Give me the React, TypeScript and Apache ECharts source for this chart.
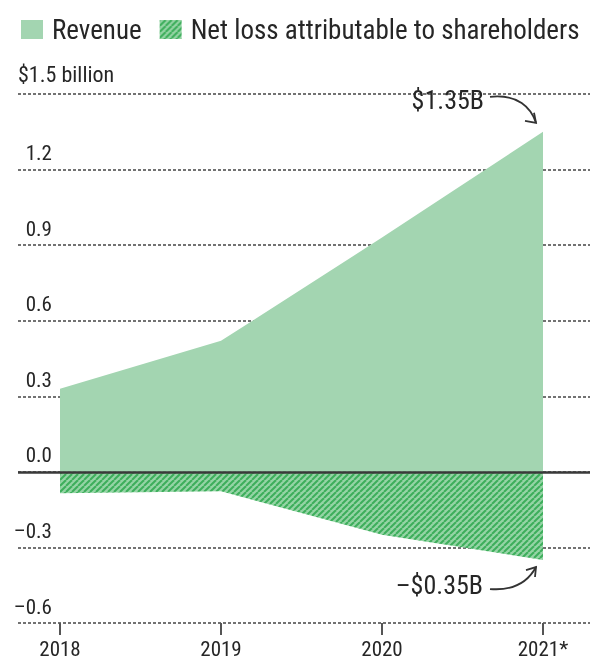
import React, { useEffect, useRef } from 'react';
import * as echarts from 'echarts';

const years = [2018, 2019, 2020, 2021];
const yearLabels = ['2018', '2019', '2020', '2021*'];
const revenue = [0.33, 0.52, 0.93, 1.35];
const netLoss = [-0.085, -0.077, -0.25, -0.35];
const legendNames = ['Revenue', 'Net loss attributable to shareholders'];
const axisTitle = '$1.5 billion';
const revenueNote = '$1.35B';
const lossNote = '–$0.35B';

const FONT = '"Roboto Condensed", Roboto, sans-serif';
const W = 400;
const GREEN = '#a3d5b1';
const INK = '#262626';

function makeHatch() {
  const c = document.createElement('canvas');
  c.width = 6;
  c.height = 6;
  const g = c.getContext('2d')!;
  g.fillStyle = '#95d4a5';
  g.fillRect(0, 0, 6, 6);
  g.strokeStyle = '#3dae5b';
  g.lineWidth = 2;
  for (const k of [-6, 0, 6]) {
    g.beginPath();
    g.moveTo(k, 6);
    g.lineTo(k + 6, 0);
    g.stroke();
  }
  return { image: c.toDataURL(), repeat: 'repeat', imageWidth: 6, imageHeight: 6 } as any;
}

export default function App() {
  const ref = useRef<HTMLDivElement>(null);
  useEffect(() => {
    if (!ref.current) return;
    const chart = echarts.init(ref.current, null, { renderer: 'svg' });
    const hatch = makeHatch();
    const fmtY = (v: number) => {
      if (Math.abs(v - 1.5) < 1e-6) return '';
      const a = Math.abs(v).toFixed(1);
      return v < -1e-9 ? '–' + a : a;
    };
    chart.setOption({
      animation: false,
      textStyle: { fontFamily: FONT, fontWeight: W },
      legend: {
        left: 16,
        top: 11,
        icon: 'rect',
        itemWidth: 22,
        itemHeight: 19,
        itemGap: 18,
        textStyle: { fontSize: 27, color: INK, fontFamily: FONT, fontWeight: W, padding: [0, 0, 0, 4] },
        data: [
          { name: legendNames[0], itemStyle: { color: GREEN } },
          { name: legendNames[1], itemStyle: { color: hatch } },
        ],
      },
      grid: { left: 18, right: 0, top: 94, bottom: 40 },
      xAxis: {
        type: 'value',
        min: 2017.7391,
        max: 2021.2919,
        splitLine: { show: false },
        axisLine: { show: false, onZero: false },
        axisTick: {
          show: true,
          customValues: years,
          length: 12,
          lineStyle: { color: '#555', width: 2 },
        },
        axisLabel: {
          customValues: years,
          margin: 15,
          fontSize: 21,
          color: INK,
          fontFamily: FONT,
          fontWeight: W,
          formatter: (v: number) => yearLabels[years.indexOf(Math.round(v))] ?? '',
        },
      },
      yAxis: {
        type: 'value',
        min: -0.6,
        max: 1.5,
        interval: 0.3,
        name: axisTitle,
        nameLocation: 'end',
        nameGap: 9,
        nameTextStyle: { fontSize: 22, color: INK, fontFamily: FONT, fontWeight: W, align: 'left', verticalAlign: 'bottom' },
        axisLine: { show: false },
        axisTick: { show: false },
        splitLine: { show: true, lineStyle: { color: '#444', width: 1.5, type: [3, 2] } },
        axisLabel: {
          inside: true,
          margin: 34,
          align: 'right',
          verticalAlign: 'bottom',
          padding: [0, 0, 6, 0],
          fontSize: 21,
          color: INK,
          fontFamily: FONT,
          fontWeight: W,
          formatter: fmtY,
        },
      },
      series: [
        {
          name: legendNames[0],
          type: 'line',
          data: years.map((y, i) => [y, revenue[i]]),
          showSymbol: false,
          symbol: 'none',
          lineStyle: { width: 0 },
          itemStyle: { color: GREEN },
          areaStyle: { color: GREEN, opacity: 1 },
          silent: true,
        },
        {
          name: legendNames[1],
          type: 'line',
          data: years.map((y, i) => [y, netLoss[i]]),
          showSymbol: false,
          symbol: 'none',
          lineStyle: { width: 0 },
          itemStyle: { color: '#5bbf74' },
          areaStyle: { color: hatch, opacity: 1 },
          silent: true,
          markLine: {
            silent: true,
            symbol: 'none',
            label: { show: false },
            lineStyle: { color: '#3a3a3a', width: 2.5, type: 'solid' },
            data: [{ yAxis: 0 }],
          },
        },
      ],
    });

    const p1 = chart.convertToPixel({ seriesIndex: 0 }, [years[3], revenue[3]]) as number[];
    const p2 = chart.convertToPixel({ seriesIndex: 1 }, [years[3], netLoss[3]]) as number[];
    const stroke = { stroke: '#333', lineWidth: 1.8, fill: 'none' };
    const e1 = [p1[0] - 7, p1[1] - 9];
    const e2 = [p2[0] - 7, p2[1] + 7];
    chart.setOption({
      graphic: [
        {
          type: 'text',
          x: p1[0] - 59,
          y: p1[1] - 32,
          style: { text: revenueNote, fontSize: 26, fontFamily: FONT, fontWeight: W, fill: INK, align: 'right', verticalAlign: 'middle' },
        },
        {
          type: 'bezierCurve',
          shape: {
            x1: p1[0] - 53, y1: p1[1] - 35,
            cpx1: p1[0] - 25, cpy1: p1[1] - 38,
            cpx2: p1[0] - 12, cpy2: p1[1] - 24,
            x2: e1[0], y2: e1[1],
          },
          style: stroke,
        },
        {
          type: 'polyline',
          shape: { points: [[e1[0] - 11, e1[1] - 2], e1, [e1[0] - 2, e1[1] - 10]] },
          style: stroke,
        },
        {
          type: 'text',
          x: p2[0] - 60,
          y: p2[1] + 25,
          style: { text: lossNote, fontSize: 26, fontFamily: FONT, fontWeight: W, fill: INK, align: 'right', verticalAlign: 'middle' },
        },
        {
          type: 'bezierCurve',
          shape: {
            x1: p2[0] - 53, y1: p2[1] + 29,
            cpx1: p2[0] - 28, cpy1: p2[1] + 31,
            cpx2: p2[0] - 14, cpy2: p2[1] + 20,
            x2: e2[0], y2: e2[1],
          },
          style: stroke,
        },
        {
          type: 'polyline',
          shape: { points: [[e2[0] - 10, e2[1] + 3], e2, [e2[0] - 1, e2[1] + 10]] },
          style: stroke,
        },
      ],
    });
    return () => chart.dispose();
  }, []);
  return <div ref={ref} style={{ position: 'fixed', left: 0, top: 0, width: 590, height: 663 }} />;
}
